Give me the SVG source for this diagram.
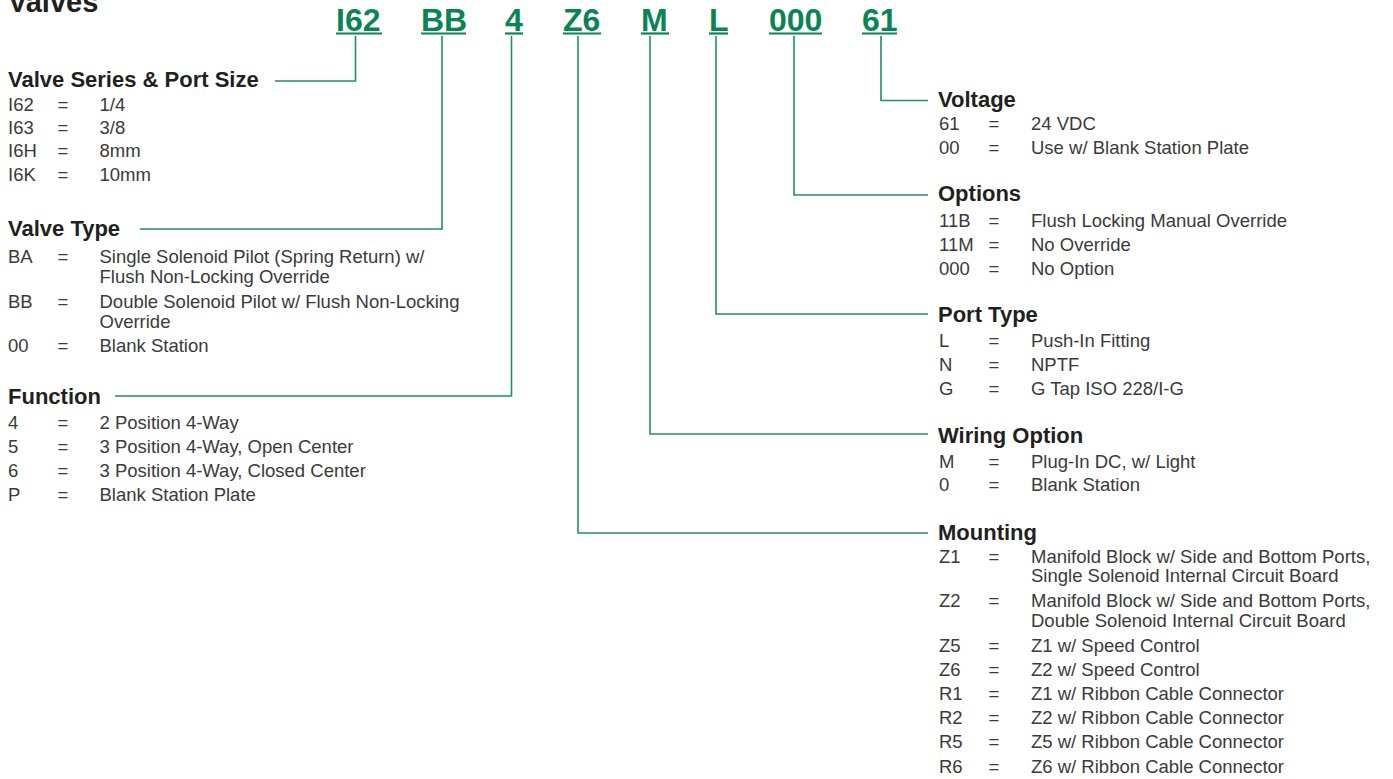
<svg xmlns="http://www.w3.org/2000/svg" width="1393" height="779" viewBox="0 0 1393 779">
<style>
.title{font-family:"Liberation Sans",Arial,sans-serif;font-weight:bold;font-size:29px;fill:#231f20}
.code{font-family:"Liberation Sans",Arial,sans-serif;font-weight:bold;font-size:32px;fill:#0a8452}
.ul{stroke:#0a8452;stroke-width:2.2;fill:none}
.h{font-family:"Liberation Sans",Arial,sans-serif;font-weight:bold;font-size:22px;fill:#231f20}
.t{font-family:"Liberation Sans",Arial,sans-serif;font-size:18.5px;fill:#3a3a3a}
.eq{text-anchor:middle}
.conn{stroke:#1e9160;stroke-width:1.6;fill:none}
</style>
<rect width="1393" height="779" fill="#ffffff"/>
<g id="title"><text class="title" x="8" y="12">Valves</text></g>

<g id="code-I62"><text class="code" x="336" y="31">I62</text><line class="ul" x1="336" y1="33.5" x2="382" y2="33.5"/></g>
<g id="code-BB"><text class="code" x="421" y="31">BB</text><line class="ul" x1="421" y1="33.5" x2="466" y2="33.5"/></g>
<g id="code-4"><text class="code" x="505" y="31">4</text><line class="ul" x1="505" y1="33.5" x2="523" y2="33.5"/></g>
<g id="code-Z6"><text class="code" x="563" y="31">Z6</text><line class="ul" x1="563" y1="33.5" x2="601" y2="33.5"/></g>
<g id="code-M"><text class="code" x="641" y="31">M</text><line class="ul" x1="641" y1="33.5" x2="669" y2="33.5"/></g>
<g id="code-L"><text class="code" x="709" y="31">L</text><line class="ul" x1="709" y1="33.5" x2="728" y2="33.5"/></g>
<g id="code-000"><text class="code" x="769" y="31">000</text><line class="ul" x1="769" y1="33.5" x2="822" y2="33.5"/></g>
<g id="code-61"><text class="code" x="862" y="31">61</text><line class="ul" x1="862" y1="33.5" x2="897" y2="33.5"/></g>

<g id="connectors">
<path class="conn" d="M355.5,36 V81 H275"/>
<path class="conn" d="M442,36 V229 H140"/>
<path class="conn" d="M511.5,36 V396 H115"/>
<path class="conn" d="M578,36 V533 H928"/>
<path class="conn" d="M650,36 V434 H928"/>
<path class="conn" d="M716,36 V314 H928"/>
<path class="conn" d="M794,36 V195 H928"/>
<path class="conn" d="M881,36 V100.5 H928"/>
</g>

<g id="section-series">
<text class="h" x="8" y="87">Valve Series &amp; Port Size</text>
<text class="t" x="8" y="110.5">I62</text><text class="t eq" x="63" y="110.5">=</text><text class="t" x="99.5" y="110.5">1/4</text>
<text class="t" x="8" y="134">I63</text><text class="t eq" x="63" y="134">=</text><text class="t" x="99.5" y="134">3/8</text>
<text class="t" x="8" y="157">I6H</text><text class="t eq" x="63" y="157">=</text><text class="t" x="99.5" y="157">8mm</text>
<text class="t" x="8" y="180.5">I6K</text><text class="t eq" x="63" y="180.5">=</text><text class="t" x="99.5" y="180.5">10mm</text>
</g>

<g id="section-valve-type">
<text class="h" x="8" y="236">Valve Type</text>
<text class="t" x="8" y="262.5">BA</text><text class="t eq" x="63" y="262.5">=</text><text class="t" x="99.5" y="262.5">Single Solenoid Pilot (Spring Return) w/</text>
<text class="t" x="99.5" y="282.5">Flush Non-Locking Override</text>
<text class="t" x="8" y="307.5">BB</text><text class="t eq" x="63" y="307.5">=</text><text class="t" x="99.5" y="307.5">Double Solenoid Pilot w/ Flush Non-Locking</text>
<text class="t" x="99.5" y="328">Override</text>
<text class="t" x="8" y="352">00</text><text class="t eq" x="63" y="352">=</text><text class="t" x="99.5" y="352">Blank Station</text>
</g>

<g id="section-function">
<text class="h" x="8" y="404">Function</text>
<text class="t" x="8" y="429">4</text><text class="t eq" x="63" y="429">=</text><text class="t" x="99.5" y="429">2 Position 4-Way</text>
<text class="t" x="8" y="453">5</text><text class="t eq" x="63" y="453">=</text><text class="t" x="99.5" y="453">3 Position 4-Way, Open Center</text>
<text class="t" x="8" y="477">6</text><text class="t eq" x="63" y="477">=</text><text class="t" x="99.5" y="477">3 Position 4-Way, Closed Center</text>
<text class="t" x="8" y="501">P</text><text class="t eq" x="63" y="501">=</text><text class="t" x="99.5" y="501">Blank Station Plate</text>
</g>

<g id="section-voltage">
<text class="h" x="938" y="107">Voltage</text>
<text class="t" x="939" y="130">61</text><text class="t eq" x="994" y="130">=</text><text class="t" x="1031" y="130">24 VDC</text>
<text class="t" x="939" y="154">00</text><text class="t eq" x="994" y="154">=</text><text class="t" x="1031" y="154">Use w/ Blank Station Plate</text>
</g>

<g id="section-options">
<text class="h" x="938" y="201">Options</text>
<text class="t" x="939" y="226.5">11B</text><text class="t eq" x="994" y="226.5">=</text><text class="t" x="1031" y="226.5">Flush Locking Manual Override</text>
<text class="t" x="939" y="251">11M</text><text class="t eq" x="994" y="251">=</text><text class="t" x="1031" y="251">No Override</text>
<text class="t" x="939" y="275">000</text><text class="t eq" x="994" y="275">=</text><text class="t" x="1031" y="275">No Option</text>
</g>

<g id="section-port-type">
<text class="h" x="938" y="322">Port Type</text>
<text class="t" x="939" y="346.5">L</text><text class="t eq" x="994" y="346.5">=</text><text class="t" x="1031" y="346.5">Push-In Fitting</text>
<text class="t" x="939" y="370.5">N</text><text class="t eq" x="994" y="370.5">=</text><text class="t" x="1031" y="370.5">NPTF</text>
<text class="t" x="939" y="394.5">G</text><text class="t eq" x="994" y="394.5">=</text><text class="t" x="1031" y="394.5">G Tap ISO 228/I-G</text>
</g>

<g id="section-wiring">
<text class="h" x="938" y="443">Wiring Option</text>
<text class="t" x="939" y="467.5">M</text><text class="t eq" x="994" y="467.5">=</text><text class="t" x="1031" y="467.5">Plug-In DC, w/ Light</text>
<text class="t" x="939" y="491">0</text><text class="t eq" x="994" y="491">=</text><text class="t" x="1031" y="491">Blank Station</text>
</g>

<g id="section-mounting">
<text class="h" x="938" y="540">Mounting</text>
<text class="t" x="939" y="562.5">Z1</text><text class="t eq" x="994" y="562.5">=</text><text class="t" x="1031" y="562.5">Manifold Block w/ Side and Bottom Ports,</text>
<text class="t" x="1031" y="582">Single Solenoid Internal Circuit Board</text>
<text class="t" x="939" y="606.5">Z2</text><text class="t eq" x="994" y="606.5">=</text><text class="t" x="1031" y="606.5">Manifold Block w/ Side and Bottom Ports,</text>
<text class="t" x="1031" y="626.5">Double Solenoid Internal Circuit Board</text>
<text class="t" x="939" y="651.5">Z5</text><text class="t eq" x="994" y="651.5">=</text><text class="t" x="1031" y="651.5">Z1 w/ Speed Control</text>
<text class="t" x="939" y="675.5">Z6</text><text class="t eq" x="994" y="675.5">=</text><text class="t" x="1031" y="675.5">Z2 w/ Speed Control</text>
<text class="t" x="939" y="700">R1</text><text class="t eq" x="994" y="700">=</text><text class="t" x="1031" y="700">Z1 w/ Ribbon Cable Connector</text>
<text class="t" x="939" y="724">R2</text><text class="t eq" x="994" y="724">=</text><text class="t" x="1031" y="724">Z2 w/ Ribbon Cable Connector</text>
<text class="t" x="939" y="748">R5</text><text class="t eq" x="994" y="748">=</text><text class="t" x="1031" y="748">Z5 w/ Ribbon Cable Connector</text>
<text class="t" x="939" y="772.5">R6</text><text class="t eq" x="994" y="772.5">=</text><text class="t" x="1031" y="772.5">Z6 w/ Ribbon Cable Connector</text>
</g>
</svg>
